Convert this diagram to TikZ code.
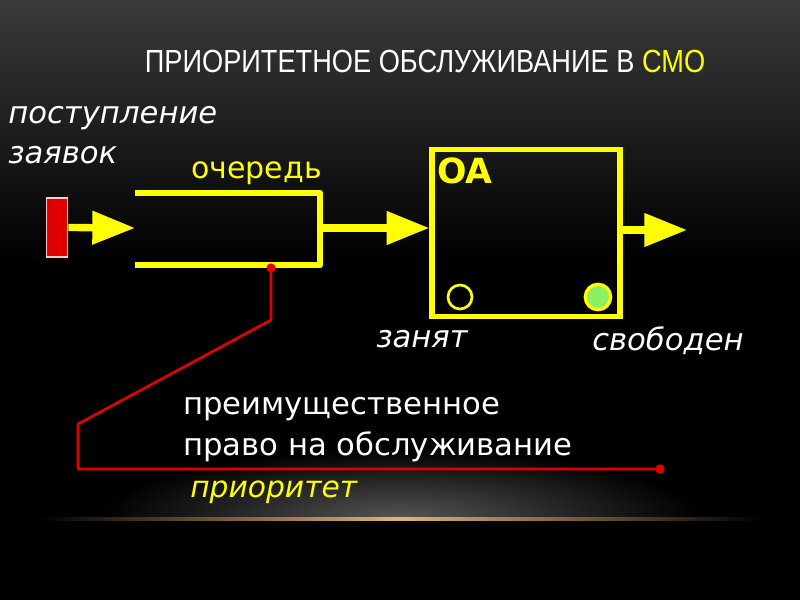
\documentclass[tikz,border=0pt]{standalone}
\usepackage{fontspec}
\setmainfont{DejaVu Sans}
\newfontfamily\titlefont[FakeStretch=0.85]{Liberation Sans}
\usetikzlibrary{arrows.meta}
\definecolor{yel}{RGB}{255,255,0}
\definecolor{grn}{RGB}{140,240,100}
\definecolor{rd}{RGB}{225,0,0}
\definecolor{gold}{RGB}{230,180,110}
\tikzset{
  ybar/.style={draw=yel, line width=5.2pt},
  yarrow/.style={draw=yel, line width=5.5pt, -{Triangle[length=32pt,width=24pt]}},
  rline/.style={draw=rd, line width=2pt},
  rdot/.style={circle, fill=rd, inner sep=0pt, minimum size=7pt},
  wtxt/.style={text=white, font=\fontsize{23}{27}\selectfont\itshape, inner sep=0pt, anchor=base west},
  ytxt/.style={text=yel, font=\fontsize{22.5}{27}\selectfont, inner sep=0pt, anchor=base west},
  ptxt/.style={text=white, font=\fontsize{23}{27}\selectfont, inner sep=0pt, anchor=base west},
}
\begin{document}
\begin{tikzpicture}[x=0.75pt, y=-0.75pt]
% background
\useasboundingbox (0,0) rectangle (800,600);
\fill[black] (0,0) rectangle (800,600);
\shade[top color={rgb,255:red,58;green,58;blue,58}, bottom color=black] (0,0) rectangle (800,260);
\begin{scope}
  \clip (0,400) rectangle (800,519);
  \shade[inner color={rgb,255:red,85;green,85;blue,85}, outer color=black] (400,519) ellipse (300 and 70);
\end{scope}
\shade[left color=black, right color=gold] (40,517.5) rectangle (400,520.5);
\shade[left color=gold, right color=black] (400,517.5) rectangle (760,520.5);
% title
\node[inner sep=0pt, anchor=base, font=\titlefont\fontsize{24}{28}\selectfont, text=white] (title) at (425,72) {ПРИОРИТЕТНОЕ ОБСЛУЖИВАНИЕ В \textcolor{yel}{СМО}};
% texts
\node[wtxt] (post) at (8,123) {поступление};
\node[wtxt] (zayav) at (8,163) {заявок};
\node[ytxt] (och) at (191,178) {очередь};
% source
\node[draw={rgb,255:red,255;green,200;blue,200}, line width=1.2pt, fill=rd, minimum width=16pt, minimum height=44pt, inner sep=0pt] (src) at (57,227.5) {};
\coordinate (qin) at (135,228);
\draw[yarrow] (src.east) -- (qin);
% queue
\coordinate (q1) at (135,193);
\coordinate (q2) at (320,193);
\coordinate (q3) at (320,265);
\coordinate (q4) at (135,265);
\draw[ybar, line join=round] (q1) -- (q2) -- (q3) -- (q4);
\coordinate (qout) at (320,228);
% OA box
\node[draw=yel, line width=4pt, minimum width=141pt, minimum height=125pt, inner sep=0pt] (oa) at (526,233) {};
\node[text=yel, font=\fontsize{26}{30}\selectfont\bfseries, inner sep=0pt, anchor=base west] (oalbl) at (437,183) {OA};
\draw[yarrow] (qout) -- (oa.west |- qout);
\coordinate (out) at (687,230);
\draw[yarrow] (oa.east |- out) -- (out);
\node[circle, draw=yel, line width=2pt, minimum size=18pt, inner sep=0pt] (busyc) at (460,297) {};
\node[circle, draw=yel, fill=grn, line width=2.5pt, minimum size=19pt, inner sep=0pt] (freec) at (598,297) {};
\node[wtxt] (busy) at (376,347) {занят};
\node[wtxt] (free) at (592,350) {свободен};
% priority line
\node[rdot] (d1) at (271,268) {};
\node[rdot] (d2) at (660,469) {};
\coordinate (r1) at (271,320);
\coordinate (r2) at (78,424);
\coordinate (r3) at (78,469);
\draw[rline, line join=round] (d1.center) -- (r1) -- (r2) -- (r3) -- (d2.center);
\node[ptxt] (pre1) at (183,414) {преимущественное};
\node[ptxt] (pre2) at (183,455) {право на обслуживание};
\node[ytxt, font=\fontsize{22.3}{27}\selectfont\itshape] (prio) at (190,497) {приоритет};
\end{tikzpicture}
\end{document}
